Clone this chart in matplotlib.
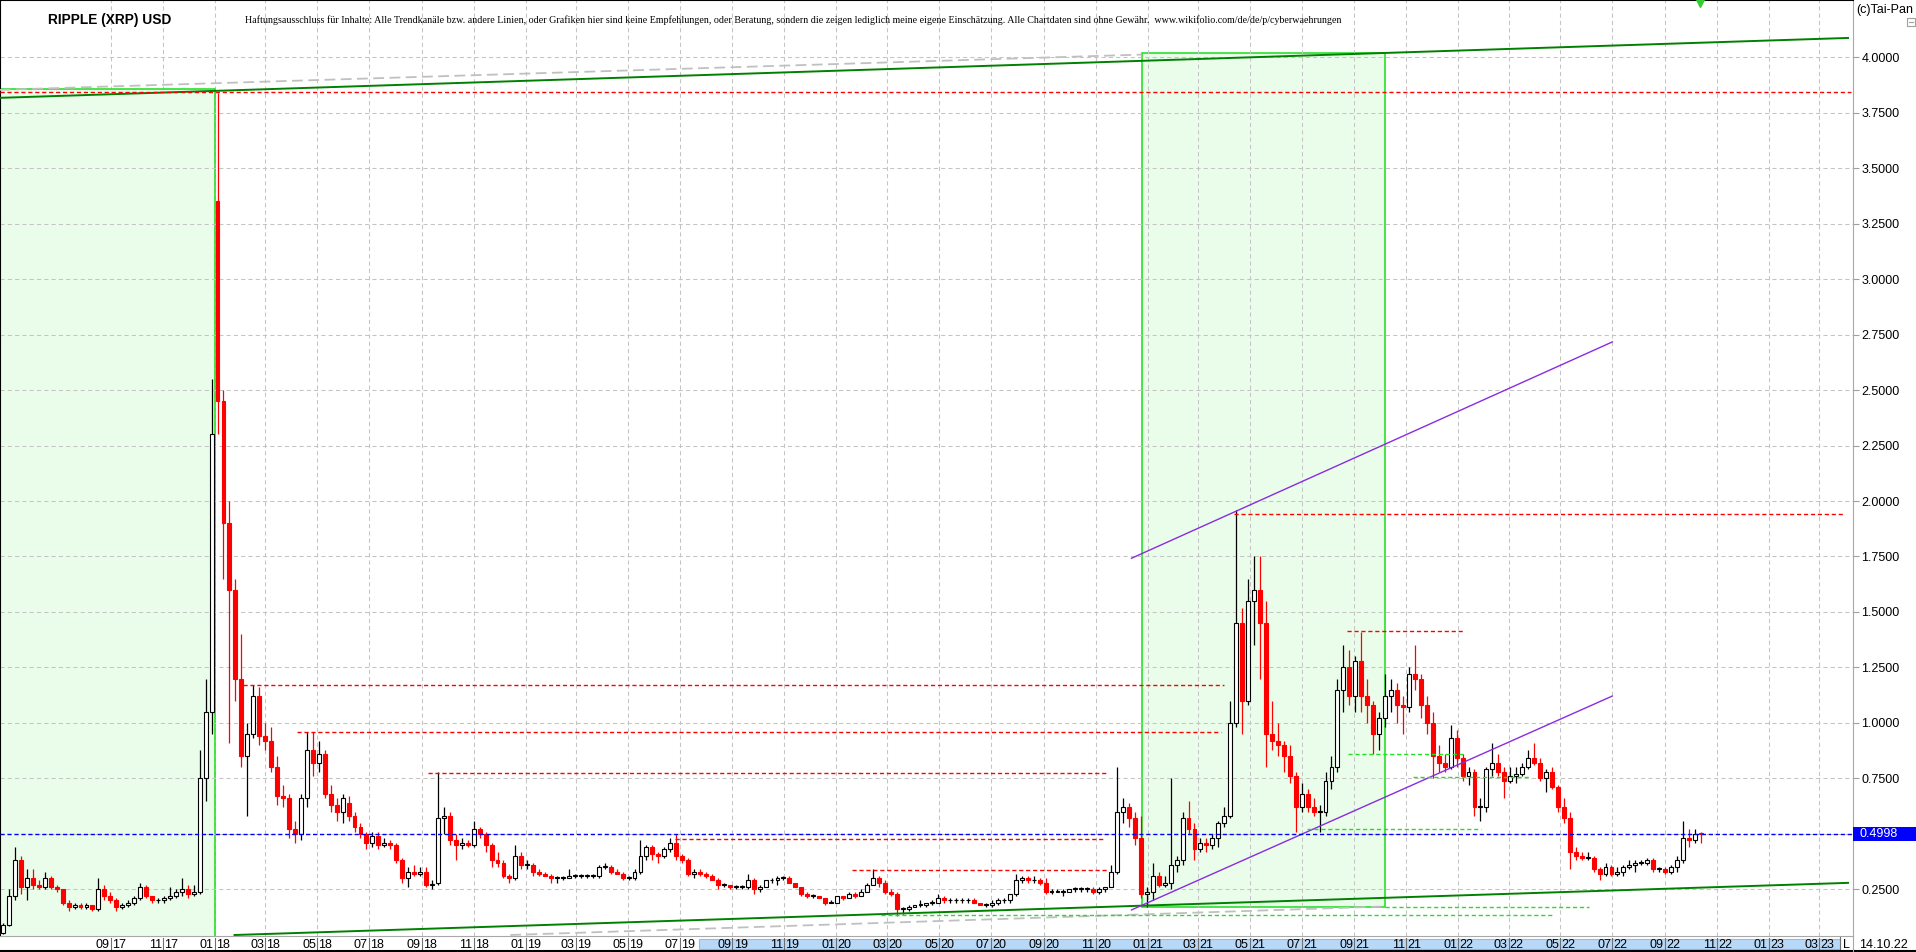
import datetime as dt
import numpy as np
import matplotlib
matplotlib.use("Agg")
import matplotlib.pyplot as plt
import matplotlib.dates as mdates
from matplotlib.patches import Rectangle
from matplotlib.lines import Line2D

W, H = 1916, 952

# weekly candles, first week starting 2017-04-24
first_week = dt.date(2017, 4, 24)

opens = [
    .055, .09, .22, .38, .26, .30, .27, .26, .30, .26, .25, .19, .17, .18, .17, .18,
    .16, .25, .22, .20, .17, .18, .19, .21, .26, .22, .20, .20, .21, .22, .24, .25,
    .23, .24, .75, 1.05, 3.35, 2.45, 1.90, 1.60, 1.20, .85, .95, 1.12, .94, .92, .80, .67,
    .66, .52, .50, .66, .88, .82, .86, .68, .63, .60, .64, .58, .53, .50, .46, .49,
    .45, .46, .45, .38, .30, .33, .32, .33, .27, .28, .57, .58, .47, .45, .46, .45,
    .52, .50, .45, .38, .37, .31, .30, .40, .36, .36, .33, .32, .31, .30, .30, .30,
    .31, .31, .31, .31, .31, .35, .35, .33, .32, .30, .30, .33, .40, .44, .41, .40,
    .43, .46, .40, .38, .32, .33, .32, .31, .29, .27, .27, .26, .26, .26, .29, .25,
    .26, .29, .29, .30, .30, .28, .26, .23, .22, .22, .21, .19, .19, .22, .21, .23,
    .22, .24, .27, .30, .28, .24, .23, .16, .16, .17, .18, .18, .19, .19, .21, .20,
    .20, .20, .20, .20, .19, .18, .18, .19, .20, .20, .23, .29, .30, .29, .29, .28,
    .24, .24, .24, .24, .25, .25, .25, .25, .24, .25, .26, .33, .60, .62, .57, .48,
    .23, .24, .31, .27, .28, .36, .38, .57, .52, .43, .46, .45, .48, .55, .58, 1.00,
    1.45, 1.10, 1.55, 1.60, 1.45, .95, .92, .90, .85, .76, .62, .68, .62, .60, .60, .74,
    .80, 1.15, 1.25, 1.12, 1.28, 1.12, 1.08, .95, 1.02, 1.12, 1.15, 1.08, 1.07, 1.22, 1.20, 1.08,
    1.00, .85, .82, .80, .93, .84, .76, .78, .62, .62, .79, .82, .78, .74, .76, .77,
    .80, .84, .82, .75, .78, .71, .62, .57, .42, .40, .39, .39, .34, .32, .35, .32,
    .33, .35, .36, .37, .37, .38, .34, .34, .33, .35, .38, .48, .47, .50,
]
highs = [
    .10, .25, .44, .40, .34, .34, .29, .33, .31, .27, .25, .20, .19, .19, .19, .18,
    .30, .27, .24, .21, .19, .20, .22, .28, .27, .22, .21, .22, .26, .25, .30, .27,
    .27, .88, 1.20, 2.55, 3.84, 2.50, 2.00, 1.65, 1.40, 1.00, 1.17, 1.16, 1.00, .98, .85, .72,
    .68, .56, .68, .96, .96, .92, .88, .72, .66, .68, .67, .60, .55, .51, .51, .51,
    .48, .47, .46, .39, .35, .36, .35, .35, .29, .78, .62, .60, .50, .48, .47, .56,
    .53, .51, .46, .42, .38, .32, .45, .42, .38, .37, .34, .33, .32, .31, .31, .34,
    .32, .32, .32, .32, .36, .37, .36, .34, .33, .31, .34, .47, .45, .45, .42, .44,
    .48, .50, .41, .39, .34, .34, .33, .32, .30, .28, .27, .27, .27, .32, .30, .27,
    .29, .30, .31, .31, .31, .28, .26, .24, .23, .22, .21, .20, .22, .22, .24, .24,
    .25, .28, .34, .31, .29, .25, .24, .17, .18, .18, .20, .19, .20, .23, .22, .21,
    .21, .21, .21, .21, .19, .19, .20, .21, .21, .23, .32, .31, .31, .31, .30, .30,
    .25, .25, .25, .25, .26, .26, .26, .26, .26, .26, .36, .80, .66, .64, .60, .58,
    .26, .37, .33, .31, .75, .40, .60, .65, .55, .48, .48, .50, .56, .62, 1.10, 1.96,
    1.52, 1.65, 1.75, 1.75, 1.55, 1.10, 1.00, .92, .90, .78, .73, .70, .66, .63, .78, .85,
    1.20, 1.35, 1.33, 1.30, 1.41, 1.20, 1.10, 1.05, 1.22, 1.20, 1.18, 1.12, 1.25, 1.35, 1.22, 1.12,
    1.05, .90, .86, .99, .97, .86, .80, .79, .66, .80, .91, .86, .80, .80, .80, .82,
    .88, .91, .84, .79, .80, .72, .66, .60, .44, .42, .42, .40, .35, .37, .36, .35,
    .36, .38, .38, .38, .39, .39, .35, .35, .36, .40, .56, .52, .52, .51,
]
lows = [
    .05, .085, .20, .23, .20, .25, .25, .25, .25, .24, .18, .15, .16, .16, .16, .15,
    .15, .20, .19, .15, .16, .17, .18, .20, .21, .19, .19, .19, .20, .21, .22, .21,
    .22, .23, .65, .95, 2.30, 1.65, .91, 1.10, .80, .58, .93, .90, .88, .78, .63, .62,
    .48, .46, .47, .62, .76, .78, .66, .60, .56, .55, .56, .51, .48, .43, .44, .43,
    .44, .43, .37, .28, .26, .31, .31, .26, .25, .27, .50, .45, .38, .43, .44, .44,
    .48, .42, .35, .35, .30, .28, .29, .34, .34, .31, .31, .31, .28, .28, .29, .30,
    .30, .30, .30, .30, .30, .34, .32, .32, .29, .29, .29, .32, .38, .38, .37, .39,
    .42, .38, .37, .31, .30, .31, .30, .29, .25, .26, .25, .25, .25, .25, .23, .24,
    .26, .28, .27, .29, .28, .26, .22, .21, .21, .21, .18, .19, .19, .20, .21, .21,
    .22, .24, .27, .26, .23, .22, .13, .14, .15, .17, .17, .17, .18, .19, .19, .19,
    .19, .19, .19, .19, .18, .17, .17, .18, .19, .19, .22, .28, .28, .28, .27, .23,
    .23, .24, .22, .24, .24, .24, .24, .23, .23, .24, .26, .32, .55, .53, .45, .21,
    .17, .20, .26, .26, .25, .33, .36, .50, .38, .42, .42, .43, .44, .53, .57, .98,
    .95, 1.08, 1.35, 1.20, .80, .88, .85, .78, .73, .51, .60, .60, .58, .51, .58, .70,
    .78, 1.05, 1.08, 1.05, 1.05, 1.00, .86, .88, .98, 1.05, 1.00, .95, 1.05, 1.15, 1.02, .95,
    .75, .78, .78, .79, .80, .74, .72, .58, .56, .60, .76, .76, .66, .73, .73, .76,
    .79, .81, .74, .69, .70, .60, .55, .34, .38, .38, .38, .33, .29, .31, .31, .31,
    .31, .34, .33, .36, .36, .33, .33, .32, .32, .33, .37, .44, .46, .46,
]
closes = [
    .09, .22, .38, .26, .30, .27, .26, .30, .26, .25, .19, .17, .18, .17, .18, .16,
    .25, .22, .20, .17, .18, .19, .21, .26, .22, .20, .20, .21, .22, .24, .25, .23,
    .24, .75, 1.05, 2.30, 2.45, 1.90, 1.60, 1.20, .85, .95, 1.12, .94, .92, .80, .67, .66,
    .52, .50, .66, .88, .82, .86, .68, .63, .60, .66, .58, .53, .50, .46, .49, .45,
    .46, .45, .38, .30, .33, .32, .33, .27, .27, .57, .58, .47, .45, .46, .45, .52,
    .50, .45, .38, .37, .31, .30, .40, .36, .36, .33, .32, .31, .30, .30, .30, .31,
    .31, .31, .31, .31, .35, .35, .33, .32, .30, .30, .33, .40, .44, .41, .40, .43,
    .46, .40, .38, .32, .33, .32, .31, .29, .27, .27, .26, .26, .26, .29, .25, .26,
    .29, .29, .30, .30, .28, .26, .23, .22, .22, .21, .19, .19, .22, .21, .23, .22,
    .24, .27, .30, .28, .24, .23, .16, .16, .17, .18, .18, .19, .19, .21, .20, .20,
    .20, .20, .20, .19, .18, .18, .19, .20, .20, .23, .29, .30, .29, .29, .28, .24,
    .24, .24, .24, .25, .25, .25, .25, .24, .25, .26, .33, .60, .62, .57, .48, .23,
    .24, .31, .27, .28, .36, .38, .57, .52, .43, .46, .45, .48, .55, .58, 1.00, 1.45,
    1.10, 1.55, 1.60, 1.45, .95, .92, .90, .85, .76, .62, .68, .62, .60, .60, .74, .80,
    1.15, 1.25, 1.12, 1.28, 1.12, 1.08, .95, 1.02, 1.12, 1.15, 1.08, 1.07, 1.22, 1.20, 1.08, 1.00,
    .85, .82, .80, .93, .84, .76, .78, .62, .62, .79, .82, .78, .74, .76, .77, .80,
    .84, .82, .75, .78, .71, .62, .57, .42, .40, .39, .39, .34, .32, .35, .32, .33,
    .35, .36, .37, .37, .38, .34, .34, .33, .35, .38, .48, .47, .50, .4998,
]

last_price = 0.4998
last_date = "14.10.22"

# horizontal levels: (from, to, price)
red_levels = [
    ("2017-04-23", "2023-04-07", 3.843),
    ("2021-04-13", "2023-03-31", 1.940),
    ("2018-02-03", "2021-04-01", 1.169),
    ("2018-04-07", "2021-03-28", 0.958),
    ("2018-09-08", "2020-11-15", 0.773),
    ("2019-06-26", "2020-11-10", 0.475),
    ("2020-01-19", "2020-11-15", 0.337),
    ("2021-08-23", "2022-01-06", 1.413),
]
green_levels = [
    ("2021-08-24", "2022-01-08", 0.858),
    ("2021-11-09", "2022-03-26", 0.755),
    ("2021-07-07", "2022-01-28", 0.520),
    ("2021-10-07", "2022-06-04", 0.172),
    ("2020-02-23", "2022-04-23", 0.135),
]

# trend lines: (date, price) pairs
channel_top = [("2017-04-23", 3.817), ("2023-04-04", 4.087)]
channel_bottom = [("2018-01-24", 0.044), ("2023-04-04", 0.279)]
shadow_top = [("2017-04-23", 3.853), ("2020-12-25", 4.012)]
shadow_bottom = [("2018-12-14", 0.044), ("2021-10-02", 0.172)]
violet_top = [("2020-12-13", 1.742), ("2022-07-01", 2.717)]
violet_bottom = [("2020-12-13", 0.157), ("2022-07-01", 1.121)]

# shaded zones: (from, to, low, high)
zones = [
    ("2017-04-23", "2018-01-01", 0.0, 3.855),
    ("2020-12-25", "2021-10-07", 0.172, 4.018),
]

d = mdates.datestr2num
plt.rcParams['font.family'] = ['Liberation Sans', 'DejaVu Sans']

fig = plt.figure(figsize=(W / 100, H / 100), dpi=100)
ax = fig.add_axes([0, 16 / H, 1853 / W, 936 / H])
x0 = d("2018-01-01") - 252.6
x1 = d("2018-01-01") + 1924.8
ax.set_xlim(x0, x1)
ax.set_ylim(0.0395, 4.258)

# month ticks every 2 months
tick_dates = []
y, m = 2017, 9
while (y, m) <= (2023, 3):
    tick_dates.append(dt.date(y, m, 1))
    m += 2
    if m > 12:
        m -= 12
        y += 1
tick_nums = mdates.date2num(tick_dates)

# grid
for t in tick_nums:
    ax.axvline(t, color='#C4C4C4', lw=0.75, ls=(0, (4, 3)), zorder=1)
yt = np.arange(0.25, 4.01, 0.25)
for v in yt:
    ax.axhline(v, color='#C4C4C4', lw=0.75, ls=(0, (4, 3)), zorder=2)

# zones (first one hides the vertical grid, second one lies under it)
for (a, b, lo, hi), z in zip(zones, (1.2, 0.8)):
    ax.add_patch(Rectangle((d(a), lo), d(b) - d(a), hi - lo, facecolor='#EAFDEA',
                           edgecolor='#2BE02B', lw=1.2, zorder=z))

# candles
o, hh, ll, c = map(np.array, (opens, highs, lows, closes))
xs = mdates.date2num(first_week) + 7 * np.arange(len(o)) + 3
up = c >= o
ax.vlines(xs[up], ll[up], hh[up], colors='black', lw=0.9, zorder=3)
ax.vlines(xs[~up], ll[~up], hh[~up], colors='red', lw=0.9, zorder=3)
lo_b = np.minimum(o, c)
ht_b = np.maximum(np.abs(c - o), 0.004)
ax.bar(xs[up], ht_b[up], bottom=lo_b[up], width=4.6, facecolor='white',
       edgecolor='black', lw=0.8, zorder=3.5)
ax.bar(xs[~up], ht_b[~up], bottom=lo_b[~up], width=4.6, facecolor='red',
       edgecolor='red', lw=0.8, zorder=3.5)

# trend lines
def seg(pts, **kw):
    ax.plot([d(p[0]) for p in pts], [p[1] for p in pts], **kw)

seg(shadow_top, color='#C0C0C0', lw=1.3, ls=(0, (6, 3)), zorder=4)
seg(shadow_bottom, color='#C0C0C0', lw=1.3, ls=(0, (6, 3)), zorder=4)
seg(channel_top, color='#008000', lw=1.4, zorder=4.5)
seg(channel_bottom, color='#008000', lw=1.4, zorder=4.5)
seg(violet_top, color='#8A2BE2', lw=1.0, zorder=4.5)
seg(violet_bottom, color='#8A2BE2', lw=1.0, zorder=4.5)

for a, b, v in red_levels:
    ax.plot([d(a), d(b)], [v, v], color='red', lw=1.0, ls=(0, (3, 2)), zorder=4.6)
for a, b, v in green_levels:
    ax.plot([d(a), d(b)], [v, v], color='#22E022', lw=1.0, ls=(0, (3, 2)), zorder=4.6)
ax.axhline(last_price, color='#0000FF', lw=1.0, ls=(0, (3, 2)), zorder=4.7)

# marker at top
ax.plot([d("2022-10-12")], [4.245], marker='v', ms=6, color='#33CC33',
        clip_on=False, zorder=6)

# axis styling
ax.set_xticks([])
ax.yaxis.tick_right()
ax.set_yticks(yt)
ax.set_yticklabels(['%.4f' % v for v in yt])
ax.tick_params(axis='y', length=4, width=0.8, color='#A0A0A0', pad=2,
               labelsize=9, labelcolor='black')
ax.spines['right'].set_color('#A8A8A8')
ax.spines['bottom'].set_color('#A8A8A8')
ax.spines['top'].set_color('black')
ax.spines['top'].set_linewidth(1.5)
ax.spines['left'].set_color('black')

# bottom date strip
ax2 = fig.add_axes([0, 0, 1853 / W, 16 / H])
ax2.set_xlim(x0, x1)
ax2.set_ylim(0, 1)
ax2.axis('off')
ax2.add_patch(Rectangle((d("2019-07-24"), 0.19), d("2023-03-25") - d("2019-07-24"), 0.61,
                        facecolor='#B8D8F8', edgecolor='#8FBEEA', lw=0.8))
px = (x1 - x0) / 1853
for t, dd in zip(tick_nums, tick_dates):
    ax2.plot([t, t], [0.15, 0.85], color='#707070', lw=0.8)
    ax2.text(t - 1.2 * px, 0.45, '%02d' % dd.month, ha='right', va='center', fontsize=9)
    ax2.text(t + 1.2 * px, 0.45, '%02d' % (dd.year % 100), ha='left', va='center', fontsize=9)
ax2.plot([d("2023-03-25")] * 2, [0.1, 0.95], color='#707070', lw=0.8)

fig.add_artist(Line2D([0, 1], [1.0 / H, 1.0 / H], color='black', lw=1.5))
fig.add_artist(Line2D([1853 / W, 1853 / W], [0, 16 / H], color='#A8A8A8', lw=0.8))
fig.text(1846 / W, 7.5 / H, 'L', ha='center', va='center', fontsize=9)
fig.text(1883 / W, 7.5 / H, last_date, ha='center', va='center', fontsize=9)

# last price box
fig.add_artist(Rectangle((1853 / W, (H - 840.7) / H), 63 / W, 13.4 / H,
                         facecolor='#0000FF', edgecolor='none', zorder=5))
fig.text(1859 / W, (H - 834) / H, '%.4f' % last_price, color='white',
         ha='left', va='center', fontsize=9, zorder=6)

# header texts
fig.text(1856 / W, (H - 10) / H, '(c)Tai-Pan', ha='left', va='center', fontsize=9)
fig.add_artist(Rectangle((1907 / W, (H - 26) / H), 8 / W, 8 / H, facecolor='white',
                         edgecolor='#A0A0A0', lw=0.8))
fig.add_artist(Line2D([1909 / W, 1913 / W], [(H - 22) / H] * 2, color='#A0A0A0', lw=0.8))

title = fig.text(48 / W, (H - 20) / H, 'RIPPLE (XRP) USD', ha='left', va='center',
                 fontsize=10, fontweight='bold')
note = fig.text(245 / W, (H - 20) / H,
                'Haftungsausschluss für Inhalte: Alle Trendkanäle bzw. andere Linien, oder Grafiken '
                'hier sind keine Empfehlungen, oder Beratung, sondern die zeigen lediglich meine '
                'eigene Einschätzung. Alle Chartdaten sind ohne Gewähr.  '
                'www.wikifolio.com/de/de/p/cyberwaehrungen',
                ha='left', va='center', fontsize=8, family=['Liberation Serif', 'DejaVu Serif'])

renderer = fig.canvas.get_renderer()
for txt, target in ((title, 124), (note, 1091)):
    w = txt.get_window_extent(renderer).width
    txt.set_fontsize(txt.get_fontsize() * target / w)

fig.savefig('out.png', dpi=100)
